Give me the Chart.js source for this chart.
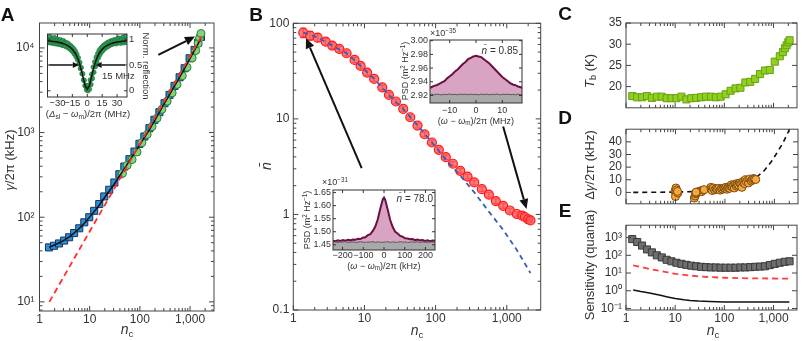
<!DOCTYPE html>
<html><head><meta charset="utf-8">
<script src="https://cdn.jsdelivr.net/npm/chart.js@4.4.1/dist/chart.umd.min.js"></script>
<style>
body{margin:0;background:#fff;width:803px;height:341px;position:relative;overflow:hidden;font-family:"Liberation Sans",Arial,sans-serif;color:#333}
canvas{position:absolute}
.t{position:absolute;white-space:nowrap;line-height:1;transform:translate(-50%,-50%)}
.r{transform:translate(-50%,-50%) rotate(-90deg)}
.r2{transform:translate(-50%,-50%) rotate(90deg)}
.lft{transform:translate(0,-50%)}
.rgt{transform:translate(-100%,-50%)}
.L{font-weight:bold;font-size:19px;color:#111}
.m{font-size:13px}
.s{font-size:9px}
sub{font-size:70%;vertical-align:-0.3em;line-height:0}
sup{font-size:70%;vertical-align:0.45em;line-height:0}
</style></head><body>
<canvas id="cA"></canvas><canvas id="cB"></canvas><canvas id="cC"></canvas><canvas id="cD"></canvas><canvas id="cE"></canvas>
<canvas id="ciA"></canvas><canvas id="ciB"></canvas><canvas id="ciC"></canvas>

<div class="t L" style="left:7.5px;top:13.5px">A</div>
<div class="t L" style="left:256px;top:13.5px">B</div>
<div class="t L" style="left:565px;top:13px">C</div>
<div class="t L" style="left:565px;top:117px">D</div>
<div class="t L" style="left:565px;top:210px">E</div>

<div class="t r m" style="left:9px;top:160px"><i>γ</i>/2π (kHz)</div>
<div class="t m" style="left:127px;top:329px;font-size:14px"><i>n</i><sub>c</sub></div>
<div class="t r m" style="left:266px;top:166px;font-size:14px"><i>n̄</i></div>
<div class="t m" style="left:417px;top:330px;font-size:14px"><i>n</i><sub>c</sub></div>
<div class="t m" style="left:713px;top:330px;font-size:14px"><i>n</i><sub>c</sub></div>
<div class="t r m" style="left:589px;top:71px"><i>T</i><sub>b</sub> (K)</div>
<div class="t r m" style="left:589px;top:165px">Δ<i>γ</i>/2π (kHz)</div>
<div class="t r m" style="left:589px;top:265px">Sensitivity (quanta)</div>

<div class="t s" style="left:88px;top:114px;font-size:9.5px">(<i>Δ</i><sub>sl</sub> − <i>ω</i><sub>m</sub>)/2π (MHz)</div>
<div class="t r2 s" style="left:146px;top:66px;font-size:9.5px">Norm. reflection</div>
<div class="t lft s" style="left:102px;top:76px;font-size:9.5px">15 MHz</div>

<div class="t lft s" style="left:430px;top:33px">×10<sup>−35</sup></div>
<div class="t rgt s" style="left:518px;top:51px;font-size:10px"><i>n̄</i> = 0.85</div>
<div class="t r s" style="left:405px;top:71px">PSD (m<sup>2</sup> Hz<sup>−1</sup>)</div>
<div class="t s" style="left:476px;top:121px">(<i>ω</i> − <i>ω</i><sub>m</sub>)/2π (MHz)</div>

<div class="t lft s" style="left:322px;top:182px">×10<sup>−31</sup></div>
<div class="t rgt s" style="left:433px;top:199px;font-size:10px"><i>n̄</i> = 78.0</div>
<div class="t r s" style="left:307px;top:220px">PSD (m<sup>2</sup> Hz<sup>−1</sup>)</div>
<div class="t s" style="left:384px;top:266px">(<i>ω</i> − <i>ω</i><sub>m</sub>)/2π (kHz)</div>

<script>
// ================= DATA =================
// Panel A
const aNc = [1.55,1.95,2.45,3.1,3.9,4.9,6.2,7.8,9.8,12.3,15.5,19.5,24.5,31,39,49,62,78,98,123,155,195,245,310,390,490,620,780,980,1230,1450,1650];
const aGamma = [44,46,49,53,58,65,74,87,100,119,143,176,211,257,322,397,485,597,736,898,1127,1413,1740,2222,2788,3559,4503,5755,7551,9470,11560,13500];
const aNcG = [45,56,70,88,110,140,175,220,275,350,440,550,700,870,1100,1300,1450,1550,1650];
const aGammaG = [330,410,480,590,760,950,1180,1480,1880,2350,2950,3700,4700,5900,7600,9300,11300,13200,14800];
const aFitNc = [1.55,2,3,4,6,8,10,15,20,30,50,70,100,150,200,300,500,700,1000,1400,1650];
const aFit = [44,47,53,59,72,86,101,135,172,240,380,520,720,1050,1400,2150,3600,5100,7500,10800,13000];
const aRedNc = [1.57,1700];
const aRed = [10,13800];
const aArrow = [[233,8265],[1253,13600]];
// Panel A inset
const iaUpX = [-39,-37.5,-36,-34.5,-33,-31.5,-30,-28.5,-27,-25.5,-24,-22.5,-21,-19.5,-18,-16.5,-15,-13.5,-12,-10.5,-9,-7.5,-6,-4.5,-3,-1.5,0,1.5,3,4.5,6,7.5,9,10.5,12,13.5,15,16.5,18,19.5,21,22.5,24,25.5,27,28.5,30,31.5,33,34.5,36,37.5,39];
const iaUpY = [1.02,1.05,0.99,1.01,1.03,0.98,1.00,0.97,0.99,0.96,0.97,0.94,0.93,0.92,0.89,0.87,0.84,0.81,0.77,0.71,0.64,0.55,0.45,0.33,0.20,0.10,0.05,0.11,0.21,0.32,0.46,0.56,0.65,0.72,0.78,0.82,0.85,0.88,0.90,0.92,0.94,0.95,0.97,0.96,0.99,0.97,1.00,1.02,0.98,1.01,1.04,0.99,1.06];
const iaLoX = [-38.3,-36.8,-35.3,-33.8,-32.3,-30.8,-29.3,-27.8,-26.3,-24.8,-23.3,-21.8,-20.3,-18.8,-17.3,-15.8,-14.3,-12.8,-11.3,-9.8,-8.3,-6.8,-5.3,-3.8,-2.3,-0.8,0.7,2.2,3.7,5.2,6.7,8.2,9.7,11.2,12.7,14.2,15.7,17.2,18.7,20.2,21.7,23.2,24.7,26.2,27.7,29.2,30.7,32.2,33.7,35.2,36.7,38.2,39.5];
const iaLoY = [0.93,0.94,0.92,0.93,0.91,0.92,0.90,0.91,0.89,0.88,0.88,0.86,0.85,0.83,0.81,0.78,0.75,0.71,0.66,0.60,0.52,0.43,0.33,0.21,0.10,0.02,0.00,0.03,0.12,0.24,0.36,0.47,0.56,0.64,0.70,0.75,0.78,0.81,0.84,0.85,0.87,0.89,0.90,0.91,0.92,0.91,0.93,0.94,0.92,0.95,0.93,0.95,0.94];
const iaFitX = [-40,-34,-30,-26,-22,-18,-15,-12,-10,-8,-6,-4,-2,0,2,4,6,8,10,12,15,18,22,26,30,34,40];
const iaFitY = [0.967,0.955,0.943,0.925,0.899,0.857,0.806,0.728,0.651,0.546,0.409,0.245,0.094,0.03,0.094,0.245,0.409,0.546,0.651,0.728,0.806,0.857,0.899,0.925,0.943,0.955,0.967];
const iaArrows = [[[-38,0.5],[-8.5,0.5]],[[38,0.5],[8.5,0.5]]];
// Panel B
const bNc = [1.38,1.72,2.2,2.85,3.53,4.43,5.61,7.27,8.83,10.9,13.7,17.8,22.1,27.7,35.1,44,55.7,70,88.7,111,139,175,222,281,349,447,561,703,891,1106,1387,1648,1796,2000,2157];
const bN = [79.8,74.3,70.8,64.3,58.4,53.9,48.6,41.4,35.8,30.5,26.2,21.4,17.8,15.2,12.7,10.4,8.5,6.9,5.66,4.74,3.97,3.39,2.86,2.49,2.16,1.84,1.61,1.38,1.23,1.10,1.01,0.97,0.94,0.89,0.865];
const bErr = [9,7.5,6.5,5,4,3.6,3,2.5,2.1,1.8,1.5,1.2,1.0,0.85,0.7,0.6,0.48,0.4,0.32,0.27,0.22,0.19,0.16,0.14,0.12,0.1,0.09,0.08,0.07,0.06,0.055,0.05,0.05,0.045,0.045];
const bFitNc = [1.38,2.2,3.5,5.6,8.8,13.7,22,35,56,89,139,222,350,560,890,1400,2150];
const bFitN = [80,71,58.4,48.6,35.8,26.2,17.8,12.7,8.5,5.66,3.75,2.55,1.7,1.07,0.69,0.42,0.244];
const bArrows = [[[9.14,3.05],[1.51,69.6]],[[890,8.3],[1897,1.14]]];
// Panel B insets
const ibX = [-18,-17,-16,-15,-14,-13,-12,-11,-10,-9,-8,-7,-6,-5,-4,-3,-2,-1,0,1,2,3,4,5,6,7,8,9,10,11,12,13,14,15,16,17,18];
const ibPsd = [2.931,2.932,2.934,2.935,2.937,2.939,2.941,2.945,2.948,2.951,2.955,2.958,2.962,2.966,2.969,2.973,2.975,2.977,2.978,2.977,2.976,2.973,2.970,2.967,2.963,2.959,2.955,2.951,2.947,2.944,2.941,2.938,2.936,2.935,2.933,2.932,2.931];
const ibBg = [2.9212,2.9218,2.9210,2.9220,2.9214,2.9208,2.9219,2.9212,2.9222,2.9211,2.9218,2.9209,2.9221,2.9213,2.9219,2.9210,2.9220,2.9212,2.9216,2.9209,2.9219,2.9213,2.9221,2.9210,2.9217,2.9212,2.9222,2.9209,2.9218,2.9213,2.9220,2.9211,2.9217,2.9210,2.9219,2.9213,2.9216];
const icX = [-246,-234,-222,-210,-198,-186,-174,-162,-150,-138,-126,-114,-102,-90,-78,-66,-54,-42,-30,-18,-6,0,6,18,30,42,54,66,78,90,102,114,126,138,150,162,174,186,198,210,222,234,246];
const icPsd = [1.466,1.464,1.467,1.465,1.468,1.466,1.469,1.467,1.470,1.469,1.473,1.472,1.477,1.479,1.487,1.491,1.503,1.520,1.548,1.588,1.624,1.631,1.622,1.584,1.545,1.518,1.500,1.493,1.484,1.481,1.475,1.474,1.471,1.472,1.468,1.470,1.467,1.468,1.465,1.467,1.464,1.466,1.465];
const icBg = [1.460,1.461,1.459,1.461,1.460,1.462,1.459,1.460,1.461,1.459,1.460,1.462,1.460,1.459,1.461,1.460,1.462,1.459,1.461,1.460,1.459,1.461,1.460,1.462,1.459,1.461,1.460,1.459,1.462,1.460,1.461,1.459,1.460,1.461,1.460,1.462,1.459,1.461,1.460,1.459,1.461,1.460,1.461];
// Panel C
const cNc = [1.34,1.69,2.12,2.67,3.36,4.23,5.33,6.7,8.4,10.6,13.4,16.9,21.2,26.7,33.6,42.3,53.3,67,84,106,134,169,212,267,336,423,533,670,840,1060,1340,1550,1700,1850,2000,2120];
const cT = [17.76,17.48,17.48,17.76,17.34,17.62,17.62,17.26,17.26,17.26,17.62,16.98,17.26,17.34,17.48,17.62,17.62,17.48,17.62,18.18,19.02,19.58,19.72,20.98,21.12,21.82,22.95,23.79,23.93,25.89,27.15,28.13,29.05,29.75,30.45,30.94];
// Panel D
const dNc = [9.8,10.2,10.5,10.3,10.0,11.2,11.0,24,25,25.5,27,28,30,32,34,36,38,26,52,53,55,58,62,66,70,75,80,85,90,95,100,105,110,115,120,125,130,135,140,150,155,160,170,175,180,190,200,210,220,230,240,250,260,270,290,300,320,340,360,380,400,420];
const dG = [1.0,3.5,2.0,-1.5,-3.3,-0.5,0.8,-4.5,-2.8,-1.0,-0.5,0.3,0.8,1.2,0.6,1.8,2.2,0.2,4.0,2.5,1.5,3.5,2.0,3.0,2.5,3.2,1.8,3.0,2.5,3.5,3.0,4.0,2.5,3.8,4.5,3.2,5.0,6.0,4.5,5.5,3.5,6.5,5.0,7.0,6.0,5.5,7.5,6.5,4.0,8.0,9.0,7.0,10.0,8.5,9.5,7.5,10.5,9.0,10.0,11.0,10.5,10.2];
const dFitNc = [1.4,10,30,60,100,200,300,400,480,600,884,1200,1500,1900,2100];
const dFit = [0,0.3,0.8,1.6,2.7,5.4,8.1,10.8,13.5,16.5,24.8,33,39.4,47.7,52];
// Panel E
const eNc = [1.34,1.69,2.12,2.67,3.36,4.23,5.33,6.7,8.4,10.6,13.4,16.9,21.2,26.7,33.6,42.3,53.3,67,84,106,134,169,212,267,336,423,533,670,840,1060,1340,1690,2120];
const eS = [822,563,355,215,146,100,76,56,46,38,33,29,26,24,22.4,21.5,20.7,20.7,20,20,20,20,20.7,20.7,21.5,22.4,23.2,24,28,33,38,43,46];
const eRedNc = [1.4,2,3,5,7,10,20,30,50,100,300,1000,2100];
const eRed = [27,22,17,13,11,9,7.2,6.5,5.9,5.4,5,4.9,4.8];
const eBlkNc = [1.4,2,3,5,7,10,15,20,30,50,100,300,2100];
const eBlk = [1.1,0.9,0.75,0.55,0.45,0.37,0.31,0.28,0.26,0.245,0.235,0.23,0.23];
// Tick labels
const ncTicks = [1,10,100,1000], ncLabels = ['1','10','100','1,000'];
const aYTicks = [10,100,1000,10000], aYLabels = ['10¹','10²','10³','10⁴'];
const bYTicks = [0.1,1,10,100], bYLabels = ['0.1','1','10','100'];
const cYTicks = [20,25,30,35], cYLabels = ['20','25','30','35'];
const dYTicks = [0,10,20,30,40], dYLabels = ['0','10','20','30','40'];
const eYTicks = [0.1,1,10,100,1000], eYLabels = ['10⁻¹','10⁰','10¹','10²','10³'];
const iaXTicks = [-30,-15,0,15,30], iaXLabels = ['−30','−15','0','15','30'];
const iaYTicks = [0,0.5,1], iaYLabels = ['0','0.5','1'];
const ibXTicks = [-10,0,10], ibXLabels = ['−10','0','10'];
const ibYTicks = [2.92,2.94,2.96,2.98,3.00], ibYLabels = ['2.92','2.94','2.96','2.98','3.00'];
const icXTicks = [-200,-100,0,100,200], icXLabels = ['−200','−100','0','100','200'];
const icYTicks = [1.45,1.5,1.55,1.6,1.65], icYLabels = ['1.45','1.50','1.55','1.60','1.65'];

// ================= HELPERS =================
const FONT = '"Liberation Sans", Arial, sans-serif';
const pts = (xs, ys) => xs.map((x, i) => ({x, y: ys[i]}));
function logMinors(min, max) {
  const out = [];
  for (let e = Math.floor(Math.log10(min)); e <= Math.ceil(Math.log10(max)); e++)
    for (let m = 2; m <= 9; m++) { const v = m * Math.pow(10, e); if (v > min && v < max) out.push(v); }
  return out;
}
const framePlugin = {
  id: 'frame',
  afterDraw(chart, args, o) {
    if (!o || !o.x) return;
    const ctx = chart.ctx, a = chart.chartArea, xs = chart.scales.x, ys = chart.scales.y;
    ctx.save();
    ctx.strokeStyle = o.color || '#444'; ctx.lineWidth = o.lw || 1;
    ctx.beginPath();
    const draw = (s, vals, len, horiz) => vals.forEach(v => {
      const p = s.getPixelForValue(v);
      if (horiz) { if (p < a.left - 0.5 || p > a.right + 0.5) return;
        ctx.moveTo(p, a.bottom); ctx.lineTo(p, a.bottom - len); ctx.moveTo(p, a.top); ctx.lineTo(p, a.top + len);
      } else { if (p < a.top - 0.5 || p > a.bottom + 0.5) return;
        ctx.moveTo(a.left, p); ctx.lineTo(a.left + len, p); ctx.moveTo(a.right, p); ctx.lineTo(a.right - len, p); }
    });
    draw(xs, o.x.major, o.len, true); if (o.x.log) draw(xs, logMinors(xs.min, xs.max), o.mlen, true);
    draw(ys, o.y.major, o.len, false); if (o.y.log) draw(ys, logMinors(ys.min, ys.max), o.mlen, false);
    ctx.stroke();
    ctx.strokeRect(a.left, a.top, a.right - a.left, a.bottom - a.top);
    ctx.restore();
  }
};
const errPlugin = {
  id: 'err',
  beforeDatasetsDraw(chart, args, o) {
    if (!o || !o.errs) return;
    const ctx = chart.ctx, meta = chart.getDatasetMeta(o.ds), ys = chart.scales.y, ds = chart.data.datasets[o.ds];
    ctx.save(); ctx.strokeStyle = o.color; ctx.lineWidth = 1.2; ctx.beginPath();
    meta.data.forEach((el, i) => {
      const v = ds.data[i].y, e = o.errs[i];
      const y1 = ys.getPixelForValue(v + e), y2 = ys.getPixelForValue(v - e);
      ctx.moveTo(el.x, y1); ctx.lineTo(el.x, y2);
      ctx.moveTo(el.x - 3, y1); ctx.lineTo(el.x + 3, y1); ctx.moveTo(el.x - 3, y2); ctx.lineTo(el.x + 3, y2);
    });
    ctx.stroke(); ctx.restore();
  }
};
const arrowPlugin = {
  id: 'arrows',
  afterDatasetsDraw(chart, args, o) {
    if (!o || !o.list) return;
    const ctx = chart.ctx, xs = chart.scales.x, ys = chart.scales.y;
    ctx.save(); ctx.strokeStyle = o.color || '#111'; ctx.fillStyle = o.color || '#111'; ctx.lineWidth = o.lw || 2;
    o.list.forEach(([t, h]) => {
      const x1 = xs.getPixelForValue(t[0]), y1 = ys.getPixelForValue(t[1]);
      const x2 = xs.getPixelForValue(h[0]), y2 = ys.getPixelForValue(h[1]);
      const ang = Math.atan2(y2 - y1, x2 - x1), H = o.head || 9, W = o.hw || 4;
      const bx = x2 - H * Math.cos(ang), by = y2 - H * Math.sin(ang);
      ctx.beginPath(); ctx.moveTo(x1, y1); ctx.lineTo(bx, by); ctx.stroke();
      ctx.beginPath(); ctx.moveTo(x2, y2);
      ctx.lineTo(bx + W * Math.sin(ang), by - W * Math.cos(ang));
      ctx.lineTo(bx - W * Math.sin(ang), by + W * Math.cos(ang));
      ctx.closePath(); ctx.fill();
    });
    ctx.restore();
  }
};
Chart.register(framePlugin, errPlugin, arrowPlugin);

function sc(o) {
  return {
    type: o.type, position: o.pos, min: o.min, max: o.max, bounds: 'data',
    display: o.show !== false,
    grid: {display: false, drawTicks: false}, border: {display: false},
    ticks: {autoSkip: false, maxRotation: 0, minRotation: 0, padding: o.pad ?? 3, color: '#333',
      font: {family: FONT, size: o.fs || 12}, callback: (v, i) => o.labels[i]},
    afterBuildTicks: s => { s.ticks = o.vals.map(v => ({value: v})); },
    afterFit: s => { if (o.show === false) return; if (s.isHorizontal()) s.height = o.fix; else s.width = o.fix; }
  };
}
function mk(id, r, datasets, scales, plugins, pad) {
  const c = document.getElementById(id);
  c.width = r[2]; c.height = r[3];
  Object.assign(c.style, {left: r[0] + 'px', top: r[1] + 'px', width: r[2] + 'px', height: r[3] + 'px'});
  return new Chart(c, {
    type: 'scatter', data: {datasets},
    options: {responsive: false, animation: false, events: [],
      layout: {padding: Object.assign({left: 0, right: 0, top: 0, bottom: 0}, pad)},
      scales, plugins: Object.assign({legend: {display: false}, tooltip: {enabled: false}}, plugins)}
  });
}
const line = (d, color, w, dash, order) => ({data: d, showLine: true, borderColor: color, borderWidth: w, borderDash: dash || [], pointRadius: 0, order: order || 0, tension: 0});
const ncAxis = (fix, show) => sc({type: 'logarithmic', min: 1, max: 3000, pos: 'bottom', fix, vals: ncTicks, labels: ncLabels, pad: 1, show});

// ================= PANEL A =================
mk('cA', [0, 0, 225, 341], [
  line(pts(aRedNc, aRed), '#ff2d2d', 1.8, [6, 4], 0),
  line(pts(aFitNc, aFit), '#111', 1.5, [], 1),
  {data: pts(aNcG, aGammaG), pointStyle: 'circle', pointRadius: 4, backgroundColor: '#7fd47c', borderColor: '#2e7d32', borderWidth: 1, order: 2},
  {data: pts(aNc, aGamma), pointStyle: 'rect', pointRadius: 5, backgroundColor: '#2b8fd8', borderColor: '#17345f', borderWidth: 1, order: 3}
], {
  x: ncAxis(30),
  y: sc({type: 'logarithmic', min: 7.8, max: 19700, pos: 'left', fix: 39.5, vals: aYTicks, labels: aYLabels, pad: 5})
}, {frame: {x: {major: ncTicks, log: true}, y: {major: aYTicks, log: true}, len: 5, mlen: 3},
    arrows: {list: [aArrow], lw: 2, head: 10, hw: 4.5}}, {top: 23, right: 11});

// ================= PANEL B =================
mk('cB', [250, 0, 300, 341], [
  line(pts(bFitNc, bFitN), '#3a5db5', 1.8, [5, 4], 0),
  {data: pts(bNc, bN), pointStyle: 'circle', pointRadius: 4.5, backgroundColor: 'rgba(255,90,90,0.8)', borderColor: '#ff1a1a', borderWidth: 1.2, order: 1}
], {
  x: ncAxis(31),
  y: sc({type: 'logarithmic', min: 0.1, max: 100, pos: 'left', fix: 43.3, vals: bYTicks, labels: bYLabels, pad: 4})
}, {frame: {x: {major: ncTicks, log: true}, y: {major: bYTicks, log: true}, len: 5, mlen: 3},
    err: {ds: 1, errs: bErr, color: '#ff2a2a'},
    arrows: {list: bArrows, lw: 2, head: 10, hw: 4.5}}, {top: 23.3, right: 9.3});

// ================= PANEL C =================
mk('cC', [590, 0, 213, 119], [
  {data: pts(cNc, cT), pointStyle: 'rect', pointRadius: 5, backgroundColor: '#8fd11f', borderColor: '#6b9e12', borderWidth: 1}
], {
  x: ncAxis(0, false),
  y: sc({type: 'linear', min: 15, max: 35, pos: 'left', fix: 36, vals: cYTicks, labels: cYLabels, pad: 4})
}, {frame: {x: {major: ncTicks, log: true}, y: {major: cYTicks}, len: 5, mlen: 3}}, {top: 23, right: 3, bottom: 0.7});

// ================= PANEL D =================
mk('cD', [590, 118, 213, 97], [
  {data: pts(dNc, dG), pointStyle: 'circle', pointRadius: 4, backgroundColor: '#f9a93a', borderColor: '#7a4a10', borderWidth: 1, order: 0},
  line(pts(dFitNc, dFit), '#111', 1.6, [5, 4], 1)
], {
  x: ncAxis(0, false),
  y: sc({type: 'linear', min: -9, max: 50, pos: 'left', fix: 36, vals: dYTicks, labels: dYLabels, pad: 4})
}, {frame: {x: {major: ncTicks, log: true}, y: {major: dYTicks}, len: 5, mlen: 3}}, {top: 0.3, right: 3, bottom: 0.7});

// ================= PANEL E =================
mk('cE', [590, 214, 213, 127], [
  {data: pts(eNc, eS), pointStyle: 'rect', pointRadius: 5, backgroundColor: '#6e6e6e', borderColor: '#3a3a3a', borderWidth: 1, order: 2},
  line(pts(eRedNc, eRed), '#ff3b3b', 1.8, [6, 4], 0),
  line(pts(eBlkNc, eBlk), '#111', 1.5, [], 1)
], {
  x: ncAxis(31),
  y: sc({type: 'logarithmic', min: 0.082, max: 5000, pos: 'left', fix: 36, vals: eYTicks, labels: eYLabels, pad: 4})
}, {frame: {x: {major: ncTicks, log: true}, y: {major: eYTicks}, len: 5, mlen: 3}}, {top: 0.3, right: 3});

// ================= INSET A =================
mk('ciA', [20, 25, 140, 97], [
  line(pts(iaFitX, iaFitY), '#111', 1.5, [], 0),
  {data: pts(iaUpX, iaUpY), pointRadius: 2.3, backgroundColor: '#2f9e55', borderColor: '#1b6e35', borderWidth: 0.6, order: 1},
  {data: pts(iaLoX, iaLoY), pointRadius: 2.3, backgroundColor: '#2f9e55', borderColor: '#1b6e35', borderWidth: 0.6, order: 1}
], {
  x: sc({type: 'linear', min: -40, max: 40, pos: 'bottom', fix: 25, vals: iaXTicks, labels: iaXLabels, pad: 1, fs: 9.5}),
  y: sc({type: 'linear', min: -0.12, max: 1.1, pos: 'right', fix: 33, vals: iaYTicks, labels: iaYLabels, pad: 2, fs: 9.5})
}, {frame: {x: {major: iaXTicks}, y: {major: iaYTicks}, len: 3, mlen: 2, color: '#333'},
    arrows: {list: iaArrows, lw: 1.5, head: 6, hw: 3}}, {left: 27.5, top: 9});

// ================= INSET B (top) =================
mk('ciB', [392, 28, 133, 90], [
  {data: pts(ibX, ibBg), showLine: true, borderColor: '#555', borderWidth: 1, pointRadius: 0, fill: 'start', backgroundColor: '#a9a9a9'},
  {data: pts(ibX, ibPsd), showLine: true, borderColor: '#6b1040', borderWidth: 2, pointRadius: 0, fill: '-1', backgroundColor: '#d9a3c3'}
], {
  x: sc({type: 'linear', min: -17.5, max: 17.5, pos: 'bottom', fix: 15, vals: ibXTicks, labels: ibXLabels, pad: 2, fs: 9}),
  y: sc({type: 'linear', min: 2.909, max: 3.001, pos: 'left', fix: 38, vals: ibYTicks, labels: ibYLabels, pad: 2, fs: 9})
}, {frame: {x: {major: ibXTicks}, y: {major: ibYTicks}, len: 3, mlen: 2, color: '#333'}}, {top: 12, right: 3});

// ================= INSET B (bottom) =================
mk('ciC', [298, 178, 142, 84], [
  {data: pts(icX, icBg), showLine: true, borderColor: '#555', borderWidth: 1, pointRadius: 0, fill: 'start', backgroundColor: '#a9a9a9'},
  {data: pts(icX, icPsd), showLine: true, borderColor: '#6b1040', borderWidth: 2, pointRadius: 0, fill: '-1', backgroundColor: '#d9a3c3'}
], {
  x: sc({type: 'linear', min: -246, max: 246, pos: 'bottom', fix: 12, vals: icXTicks, labels: icXLabels, pad: 0, fs: 9}),
  y: sc({type: 'linear', min: 1.43, max: 1.66, pos: 'left', fix: 35, vals: icYTicks, labels: icYLabels, pad: 2, fs: 9})
}, {frame: {x: {major: icXTicks}, y: {major: icYTicks}, len: 3, mlen: 2, color: '#333'}}, {top: 12, right: 5});
</script>
</body></html>
